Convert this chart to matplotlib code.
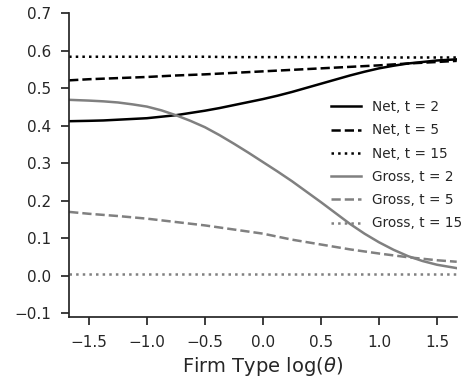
import numpy as np
import matplotlib
matplotlib.use('Agg')
import matplotlib.pyplot as plt

# firm type grid, log(theta)
x_fine = [-1.67, -1.5, -1.375, -1.25, -1.125, -1.0, -0.875, -0.75, -0.625, -0.5, -0.375,
          -0.25, -0.125, 0.0, 0.125, 0.25, 0.375, 0.5, 0.625, 0.75, 0.875, 1.0, 1.125,
          1.25, 1.375, 1.5, 1.67]
x = [-1.67, -1.5, -1.25, -1.0, -0.75, -0.5, -0.25, 0.0, 0.25, 0.5, 0.75, 1.0, 1.25, 1.5, 1.67]

net_t2 = [0.412, 0.413, 0.414, 0.416, 0.418, 0.420, 0.424, 0.428, 0.434, 0.440, 0.447,
          0.455, 0.463, 0.471, 0.480, 0.490, 0.501, 0.512, 0.523, 0.534, 0.544, 0.553,
          0.560, 0.566, 0.570, 0.574, 0.577]
net_t5 = [0.521, 0.524, 0.527, 0.530, 0.534, 0.537, 0.541, 0.545, 0.549, 0.553, 0.557, 0.561, 0.566, 0.570, 0.573]
net_t15 = [0.584, 0.584, 0.584, 0.584, 0.584, 0.584, 0.583, 0.583, 0.583, 0.583, 0.583, 0.582, 0.582, 0.582, 0.582]

gross_t2 = [0.469, 0.467, 0.465, 0.462, 0.457, 0.451, 0.441, 0.428, 0.413, 0.396, 0.375,
            0.352, 0.328, 0.303, 0.278, 0.252, 0.224, 0.196, 0.167, 0.138, 0.112, 0.089,
            0.069, 0.052, 0.039, 0.029, 0.020]
gross_t5 = [0.170, 0.165, 0.159, 0.152, 0.143, 0.134, 0.123, 0.112, 0.096, 0.083, 0.070, 0.059, 0.049, 0.041, 0.037]
gross_t15 = [0.004] * len(x)

txt = '#262626'
plt.rcParams['font.family'] = 'DejaVu Sans'
plt.rcParams['text.color'] = txt
plt.rcParams['axes.labelcolor'] = txt
plt.rcParams['xtick.color'] = txt
plt.rcParams['ytick.color'] = txt

fig = plt.figure(figsize=(4.67, 3.79), dpi=100)
ax = fig.add_axes([0.148, 0.164, 0.830, 0.801])

lw = 1.8
ax.plot(x_fine, net_t2, color='black', lw=lw, ls='-', label='Net, t = 2')
ax.plot(x, net_t5, color='black', lw=lw, ls='--', label='Net, t = 5')
ax.plot(x, net_t15, color='black', lw=lw, ls=':', label='Net, t = 15')
ax.plot(x_fine, gross_t2, color='gray', lw=lw, ls='-', label='Gross, t = 2')
ax.plot(x, gross_t5, color='gray', lw=lw, ls='--', label='Gross, t = 5')
ax.plot(x, gross_t15, color='gray', lw=lw, ls=':', label='Gross, t = 15')

ax.set_xlim(-1.67, 1.67)
ax.set_ylim(-0.11, 0.7)
ax.set_xticks([-1.5, -1.0, -0.5, 0.0, 0.5, 1.0, 1.5])
ax.set_yticks([-0.1, 0.0, 0.1, 0.2, 0.3, 0.4, 0.5, 0.6, 0.7])
ax.tick_params(labelsize=11, length=6, width=1.25, pad=7)
for s in ['top', 'right']:
    ax.spines[s].set_visible(False)
for s in ['left', 'bottom']:
    ax.spines[s].set_color(txt)
    ax.spines[s].set_linewidth(1.25)

ax.set_xlabel(r'Firm Type log($\theta$)', fontsize=14)

ax.legend(loc='center right', bbox_to_anchor=(1.046, 0.499), frameon=False,
          fontsize=9.8, handlelength=2.2, labelspacing=0.68)

fig.savefig('out.png', dpi=100)
